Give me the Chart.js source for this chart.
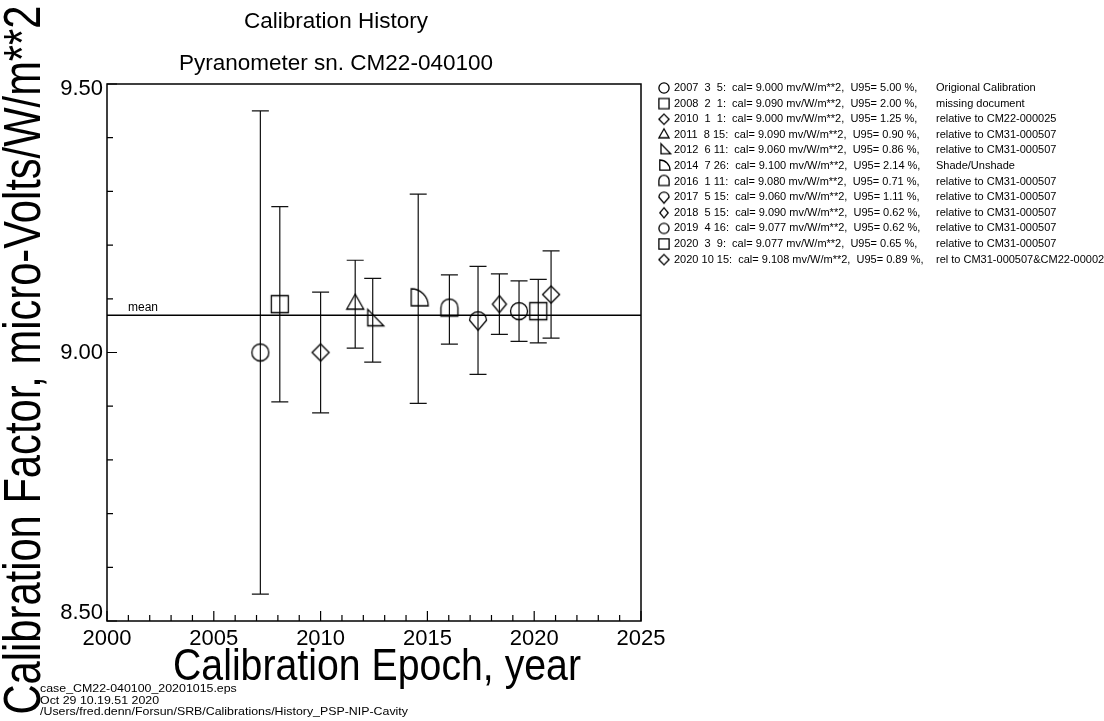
<!DOCTYPE html>
<html>
<head>
<meta charset="utf-8">
<script src="https://cdn.jsdelivr.net/npm/chart.js@4"></script>
<style>
html, body { margin: 0; padding: 0; background: #fff; }
#wrap { width: 1104px; height: 721px; }
</style>
</head>
<body>
<div id="wrap"><canvas id="chart"></canvas></div>
<script>
// calibration records (decimal year, date label, cal factor, U95 %, note, marker)
var years = [2007.18, 2008.09, 2010.00, 2011.62, 2012.44, 2014.57, 2016.03, 2017.37, 2018.37, 2019.29, 2020.19, 2020.79]
var dates = ['2007  3  5', '2008  2  1', '2010  1  1', '2011  8 15', '2012  6 11', '2014  7 26',
             '2016  1 11', '2017  5 15', '2018  5 15', '2019  4 16', '2020  3  9', '2020 10 15']
var cal = [9.000, 9.090, 9.000, 9.090, 9.060, 9.100, 9.080, 9.060, 9.090, 9.077, 9.077, 9.108]
var u95 = [5.00, 2.00, 1.25, 0.90, 0.86, 2.14, 0.71, 1.11, 0.62, 0.62, 0.65, 0.89]
var notes = ['Origional Calibration', 'missing document', 'relative to CM22-000025', 'relative to CM31-000507',
             'relative to CM31-000507', 'Shade/Unshade', 'relative to CM31-000507', 'relative to CM31-000507',
             'relative to CM31-000507', 'relative to CM31-000507', 'relative to CM31-000507', 'rel to CM31-000507&CM22-000025']
var markers = ['circle', 'square', 'diamond', 'triangle', 'rtri', 'quarter', 'dome', 'pin', 'thin', 'circle', 'square', 'diamond']

var xTitle = 'Calibration Epoch, year'
var yTitle = 'Calibration Factor, micro-Volts/W/m**2'
var title1 = 'Calibration History'
var title2 = 'Pyranometer sn. CM22-040100'
var footer = ['case_CM22-040100_20201015.eps', 'Oct 29 10.19.51 2020', '/Users/fred.denn/Forsun/SRB/Calibrations/History_PSP-NIP-Cavity']

var meanCal = cal.reduce(function (a, b) { return a + b }, 0) / cal.length
var FONT = '"Liberation Sans", Arial, Helvetica, sans-serif'

function makeMarker(kind, k) {
    var c = document.createElement('canvas')
    c.width = 32; c.height = 32
    var g = c.getContext('2d')
    g.translate(16, 16)
    g.scale(k, k)
    g.lineWidth = 1.3 / k
    g.strokeStyle = '#000'
    g.beginPath()
    var s = 8.5
    if (kind == 'circle') {
        g.arc(0, 0, s, 0, Math.PI * 2)
    } else if (kind == 'square') {
        g.rect(-s, -s, 2 * s, 2 * s)
    } else if (kind == 'diamond') {
        g.moveTo(0, -s); g.lineTo(s, 0); g.lineTo(0, s); g.lineTo(-s, 0); g.closePath()
    } else if (kind == 'thin') {
        g.moveTo(0, -s); g.lineTo(7, 0); g.lineTo(0, s); g.lineTo(-7, 0); g.closePath()
    } else if (kind == 'triangle') {
        g.moveTo(0, -10); g.lineTo(s, 5); g.lineTo(-s, 5); g.closePath()
    } else if (kind == 'rtri') {
        g.moveTo(-5, -11); g.lineTo(-5, 5.5); g.lineTo(11, 5.5); g.closePath()
    } else if (kind == 'quarter') {
        g.moveTo(-7, 7); g.lineTo(-7, -10); g.arc(-7, 7, 17, -Math.PI / 2, 0); g.closePath()
    } else if (kind == 'dome') {
        g.moveTo(-s, 6.5); g.lineTo(-s, -2); g.arc(0, -2, s, Math.PI, 0); g.lineTo(s, 6.5); g.closePath()
    } else if (kind == 'pin') {
        g.moveTo(-s, 0); g.arc(0, 0, s, Math.PI, 0); g.lineTo(0, 10); g.closePath()
    }
    g.stroke()
    return c
}

var pointImages = markers.map(function (m) { return makeMarker(m, 1) })
var legendImages = markers.map(function (m) { return makeMarker(m, 0.6) })

function fitText(ctx, text, x, y, size, width, align) {
    ctx.save()
    ctx.font = size + 'px ' + FONT
    var k = width / ctx.measureText(text).width
    ctx.translate(x, y)
    ctx.scale(k, 1)
    ctx.textAlign = align
    ctx.fillText(text, 0, 0)
    ctx.restore()
}

var errorBars = {
    id: 'errorBars',
    beforeDatasetsDraw: function (chart) {
        var ctx = chart.ctx, xs = chart.scales.x, ys = chart.scales.y
        ctx.save()
        ctx.strokeStyle = '#111'
        ctx.lineWidth = 1.2
        for (var i = 0; i < years.length; i++) {
            var d = cal[i] * u95[i] / 100
            var px = xs.getPixelForValue(years[i])
            var lo = ys.getPixelForValue(cal[i] - d)
            var hi = ys.getPixelForValue(cal[i] + d)
            ctx.beginPath()
            ctx.moveTo(px, lo); ctx.lineTo(px, hi)
            ctx.moveTo(px - 8.5, lo); ctx.lineTo(px + 8.5, lo)
            ctx.moveTo(px - 8.5, hi); ctx.lineTo(px + 8.5, hi)
            ctx.stroke()
        }
        // mean line
        var my = ys.getPixelForValue(meanCal)
        ctx.lineWidth = 1.5
        ctx.strokeStyle = '#000'
        ctx.beginPath()
        ctx.moveTo(chart.chartArea.left, my); ctx.lineTo(chart.chartArea.right, my)
        ctx.stroke()
        ctx.fillStyle = '#000'
        ctx.font = '12px ' + FONT
        ctx.fillText('mean', 128, my - 4)
        ctx.restore()
    }
}

var decor = {
    id: 'decor',
    afterDraw: function (chart) {
        var ctx = chart.ctx, a = chart.chartArea, xs = chart.scales.x, ys = chart.scales.y
        ctx.save()
        ctx.strokeStyle = '#000'
        ctx.lineWidth = 1.5
        ctx.strokeRect(a.left, a.top, a.right - a.left, a.bottom - a.top)
        ctx.lineWidth = 1.2
        ctx.beginPath()
        for (var v = xs.min; v <= xs.max; v++) {
            var px = xs.getPixelForValue(v)
            var len = (v % 5 == 0) ? 10 : 6
            ctx.moveTo(px, a.bottom); ctx.lineTo(px, a.bottom - len)
        }
        for (var k = 0; k <= 10; k++) {
            var py = ys.getPixelForValue(ys.min + k * 0.1)
            var ln = (k % 5 == 0) ? 10 : 6
            ctx.moveTo(a.left, py); ctx.lineTo(a.left + ln, py)
        }
        ctx.stroke()

        // y tick labels, end labels kept inside the axis span
        ctx.fillStyle = '#000'
        ctx.font = '22px ' + FONT
        ctx.textAlign = 'right'
        ctx.textBaseline = 'middle'
        ys.ticks.forEach(function (t) {
            var py = ys.getPixelForValue(t.value)
            if (t.value == ys.max) py += 5
            if (t.value == ys.min) py -= 8
            ctx.fillText(t.value.toFixed(2), a.left - 4, py)
        })

        ctx.textBaseline = 'alphabetic'
        ctx.textAlign = 'center'
        ctx.font = '22.5px ' + FONT
        ctx.fillText(title1, 336, 28)
        ctx.fillText(title2, 336, 70)
        fitText(ctx, xTitle, 377, 680, 44, 408, 'center')

        ctx.save()
        ctx.translate(40, 360)
        ctx.rotate(-Math.PI / 2)
        fitText(ctx, yTitle, 0, 0, 51, 709, 'center')
        ctx.restore()

        // legend
        ctx.font = '11px ' + FONT
        ctx.textAlign = 'left'
        ctx.textBaseline = 'middle'
        for (var i = 0; i < years.length; i++) {
            var ly = 88 + i * 15.6
            ctx.drawImage(legendImages[i], 664 - 16, ly - 16)
            ctx.fillText(dates[i] + ':  cal= ' + cal[i].toFixed(3) + ' mv/W/m**2,  U95= ' + u95[i].toFixed(2) + ' %,', 674, ly)
            ctx.fillText(notes[i], 936, ly)
        }

        // footer
        ctx.textBaseline = 'alphabetic'
        ctx.font = '11px ' + FONT
        var fk = 368 / ctx.measureText(footer[2]).width
        for (var j = 0; j < footer.length; j++) {
            ctx.save()
            ctx.translate(40, 692 + j * 11.5)
            ctx.scale(fk, 1)
            ctx.fillText(footer[j], 0, 0)
            ctx.restore()
        }
        ctx.restore()
    }
}

var ctx = document.getElementById('chart')
var chart = new Chart(ctx, {
    type: 'scatter',
    data: {
        datasets: [{
            label: 'cal',
            data: years.map(function (x, i) { return { x: x, y: cal[i] } }),
            pointStyle: pointImages,
            pointRadius: 9,
            pointHoverRadius: 9
        }]
    },
    options: {
        responsive: true,
        maintainAspectRatio: false,
        animation: false,
        events: [],
        layout: { padding: { left: 0, top: 84, right: 463, bottom: 0 } },
        plugins: { legend: { display: false }, tooltip: { enabled: false } },
        scales: {
            x: {
                type: 'linear', min: 2000, max: 2025,
                grid: { display: false, drawTicks: false },
                border: { display: false },
                ticks: { stepSize: 5, color: '#000', padding: 5, maxRotation: 0, autoSkip: false,
                         font: { size: 22, family: FONT }, callback: function (v) { return String(v) } },
                afterFit: function (s) { s.height = 100 }
            },
            y: {
                min: 8.5, max: 9.5,
                grid: { display: false, drawTicks: false },
                border: { display: false },
                ticks: { stepSize: 0.5, display: false },
                afterFit: function (s) { s.width = 107 }
            }
        }
    },
    plugins: [errorBars, decor]
})
</script>
</body>
</html>
